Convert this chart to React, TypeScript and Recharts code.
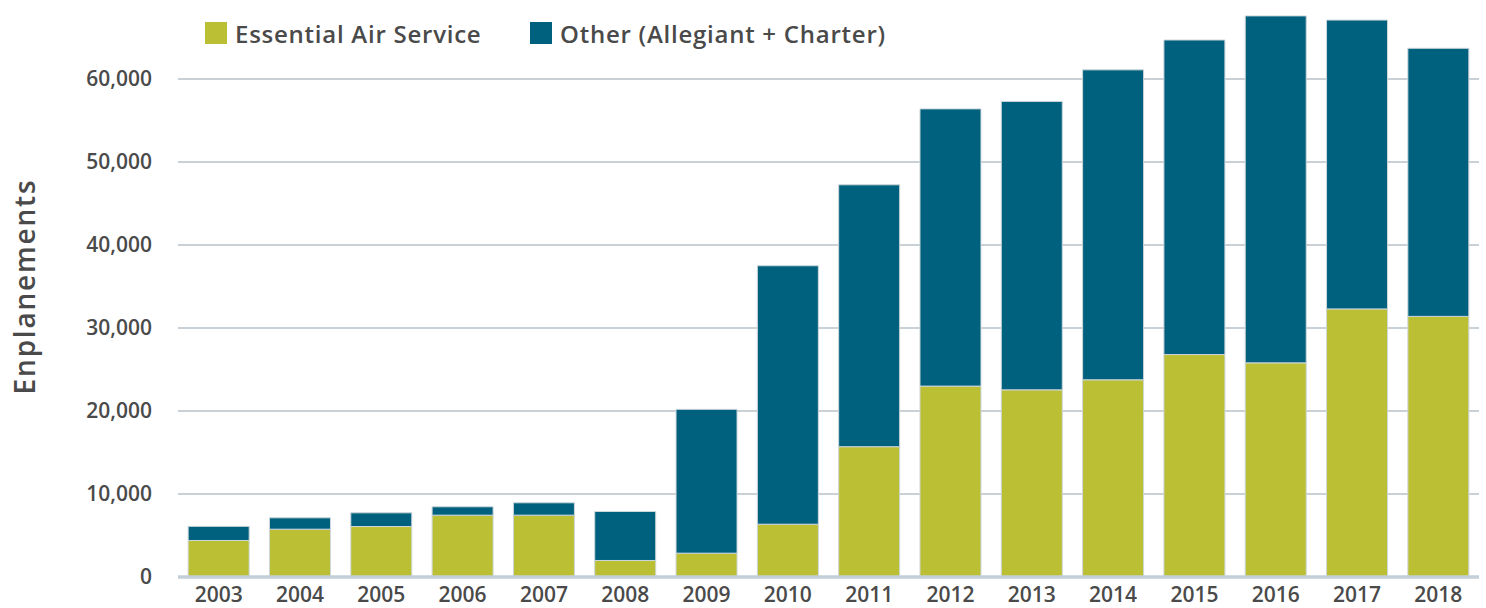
import { BarChart, Bar, XAxis, YAxis, CartesianGrid } from 'recharts';

const years = ['2003', '2004', '2005', '2006', '2007', '2008', '2009', '2010', '2011', '2012', '2013', '2014', '2015', '2016', '2017', '2018'];
const essentialAirService = [4400, 5760, 6080, 7450, 7450, 1990, 2870, 6360, 15700, 23000, 22550, 23760, 26800, 25800, 32300, 31400];
const otherAllegiantCharter = [1700, 1370, 1650, 1010, 1490, 5900, 17330, 31140, 31550, 33400, 34750, 37340, 37900, 41800, 34800, 32300];
const yTicks = [0, 10000, 20000, 30000, 40000, 50000, 60000];

const GREEN = '#bbbf33';
const BLUE = '#00617f';
const TEXT = '#4a4a4a';
const FONT = '"Open Sans", sans-serif';

const chartData = years.map((year, i) => ({
  year,
  eas: essentialAirService[i],
  other: otherAllegiantCharter[i],
}));

const legendItems = [
  { label: 'Essential Air Service', color: GREEN, left: 205 },
  { label: 'Other (Allegiant + Charter)', color: BLUE, left: 530 },
];

function ChartLegend() {
  return (
    <>
      {legendItems.map(item => (
        <div
          key={item.label}
          style={{ position: 'absolute', top: 22, left: item.left, display: 'flex', alignItems: 'center', height: 22, fontFamily: FONT }}
        >
          <span style={{ width: 22, height: 22, background: item.color, display: 'inline-block', marginRight: 8 }} />
          <span style={{ fontSize: 24, fontWeight: 600, color: TEXT, letterSpacing: 0.75, whiteSpace: 'nowrap' }}>{item.label}</span>
        </div>
      ))}
    </>
  );
}

export default function App() {
  return (
    <div style={{ position: 'absolute', left: 0, top: 0, width: 1486, height: 608, background: '#fff', overflow: 'hidden' }}>
      {/* plot top sits just above the visible area, like the cropped original */}
      <div style={{ position: 'absolute', left: 0, top: -4 }}>
        <BarChart
          width={1486}
          height={612}
          data={chartData}
          margin={{ top: 0, right: 7, bottom: 0, left: 0 }}
          barCategoryGap="12.5%"
        >
          <CartesianGrid vertical={false} stroke="#b7c2ca" strokeWidth={1.5} />
          <XAxis
            dataKey="year"
            height={31}
            tickLine={false}
            tickSize={0}
            tickMargin={10}
            axisLine={{ stroke: '#c3cfd9', strokeWidth: 3.5 }}
            tick={{ fill: TEXT, fontSize: 21, fontWeight: 600, fontFamily: FONT }}
            interval={0}
          />
          <YAxis
            width={178}
            domain={[0, 70000]}
            ticks={yTicks}
            allowDataOverflow
            axisLine={false}
            tickLine={false}
            tickSize={0}
            tickMargin={26}
            tickFormatter={(v: number) => v.toLocaleString('en-US')}
            tick={{ fill: TEXT, fontSize: 21, fontWeight: 600, fontFamily: FONT }}
            label={{
              value: 'Enplanements',
              angle: -90,
              position: 'insideLeft',
              offset: 25,
              style: { textAnchor: 'middle', fill: TEXT, fontSize: 28, fontWeight: 600, letterSpacing: 1.8, fontFamily: FONT },
            }}
          />
          <Bar dataKey="eas" name="Essential Air Service" stackId="a" fill={GREEN} stroke="#ced6da" strokeWidth={1} isAnimationActive={false} />
          <Bar dataKey="other" name="Other (Allegiant + Charter)" stackId="a" fill={BLUE} stroke="#ced6da" strokeWidth={1} isAnimationActive={false} />
        </BarChart>
      </div>
      <ChartLegend />
    </div>
  );
}
